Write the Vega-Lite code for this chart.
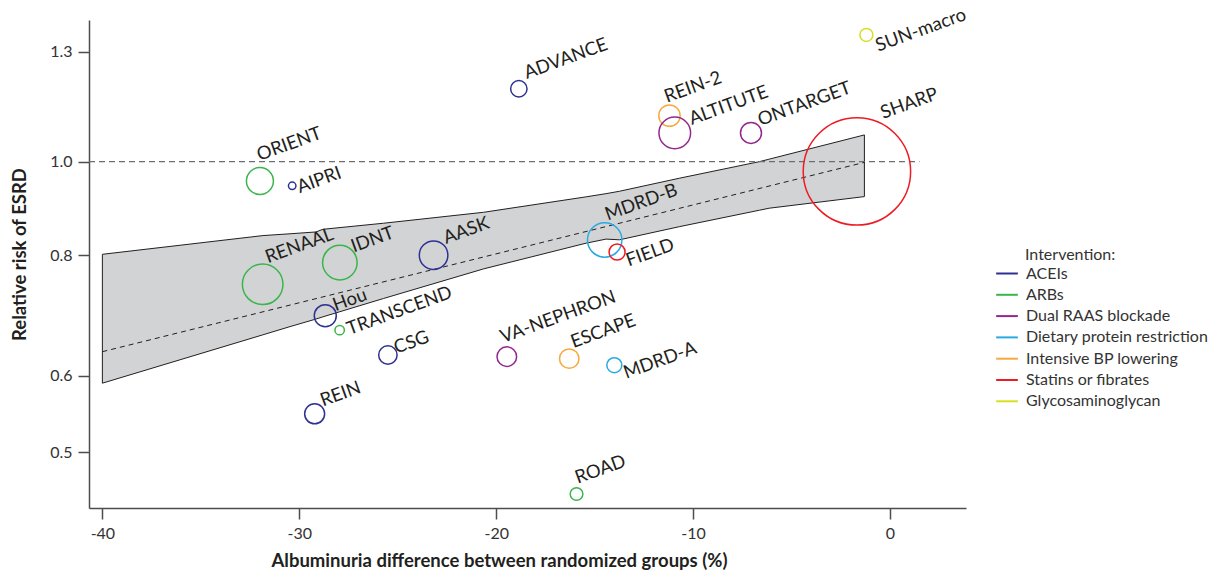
{
  "$schema": "https://vega.github.io/schema/vega-lite/v6.json",
  "width": 877,
  "height": 488,
  "autosize": {"type": "none"},
  "padding": {"left": 89, "top": 20, "right": 253, "bottom": 67},
  "config": {
    "view": {"stroke": null},
    "font": "Lato",
    "axis": {
      "labelFont": "Lato", "labelFontSize": 16, "labelColor": "#333333",
      "titleFont": "Lato", "titleFontSize": 18.5, "titleFontWeight": "bold", "titleColor": "#231f20",
      "domainColor": "#4d4d4d", "domainWidth": 1.5, "tickColor": "#4d4d4d", "tickWidth": 1.5,
      "tickSize": 11, "labelPadding": 6, "grid": false
    },
    "legend": {
      "orient": "none", "legendX": 906, "legendY": 226.5,
      "symbolType": "stroke", "symbolSize": 470, "symbolStrokeWidth": 2,
      "labelFont": "Lato", "labelFontSize": 16, "labelColor": "#333333", "labelOffset": 7, "labelLimit": 400,
      "titleFont": "Lato", "titleFontSize": 16, "titleFontWeight": "normal", "titleColor": "#333333",
      "titlePadding": -1, "rowPadding": 1.3, "padding": 0
    }
  },
  "datasets": {
    "band": [
      {"x": -40, "lo": 0.5895, "hi": 0.8017},
      {"x": -31.85, "lo": 0.6616, "hi": 0.8383},
      {"x": -30.47, "lo": 0.6747, "hi": 0.8419},
      {"x": -29.15, "lo": 0.6870, "hi": 0.8456},
      {"x": -28.80, "lo": 0.6906, "hi": 0.8510},
      {"x": -25.72, "lo": 0.7215, "hi": 0.8634},
      {"x": -20.64, "lo": 0.7743, "hi": 0.8862},
      {"x": -15.43, "lo": 0.8233, "hi": 0.9195},
      {"x": -14.42, "lo": 0.8313, "hi": 0.9265},
      {"x": -13.74, "lo": 0.8299, "hi": 0.9318},
      {"x": -10.70, "lo": 0.8563, "hi": 0.9612},
      {"x": -6.63, "lo": 0.8906, "hi": 1.0000},
      {"x": -6.13, "lo": 0.8949, "hi": 1.0060},
      {"x": -1.30, "lo": 0.9200, "hi": 1.0658}
    ],
    "ref": [
      {"x": -40.68, "y": 1.0},
      {"x": 1.5, "y": 1.0}
    ],
    "fit": [
      {"x": -40, "y": 0.6355},
      {"x": -1.27, "y": 0.9986}
    ],
    "trials": [
      {"study": "ORIENT", "intervention": "ARBs", "x": -32.0, "y": 0.955, "n": 182, "lx": -32.02, "ly": 1.0017},
      {"study": "AIPRI", "intervention": "ACEIs", "x": -30.36, "y": 0.944, "n": 14, "lx": -29.98, "ly": 0.9275},
      {"study": "RENAAL", "intervention": "ARBs", "x": -31.86, "y": 0.7464, "n": 412, "lx": -31.59, "ly": 0.7849},
      {"study": "IDNT", "intervention": "ARBs", "x": -27.94, "y": 0.786, "n": 299, "lx": -27.24, "ly": 0.805},
      {"study": "Hou", "intervention": "ACEIs", "x": -28.68, "y": 0.6925, "n": 121, "lx": -28.16, "ly": 0.6998},
      {"study": "TRANSCEND", "intervention": "ARBs", "x": -27.95, "y": 0.669, "n": 22, "lx": -27.45, "ly": 0.6612},
      {"study": "AASK", "intervention": "ACEIs", "x": -23.18, "y": 0.80, "n": 204, "lx": -22.55, "ly": 0.8215},
      {"study": "CSG", "intervention": "ACEIs", "x": -25.50, "y": 0.6305, "n": 85, "lx": -25.06, "ly": 0.6322},
      {"study": "REIN", "intervention": "ACEIs", "x": -29.22, "y": 0.548, "n": 100, "lx": -28.80, "ly": 0.5575},
      {"study": "ADVANCE", "intervention": "ACEIs", "x": -18.85, "y": 1.190, "n": 67, "lx": -18.45, "ly": 1.218},
      {"study": "REIN-2", "intervention": "Intensive BP lowering", "x": -11.20, "y": 1.116, "n": 114, "lx": -11.32, "ly": 1.151},
      {"study": "ALTITUTE", "intervention": "Dual RAAS blockade", "x": -10.93, "y": 1.071, "n": 250, "lx": -10.07, "ly": 1.0915},
      {"study": "ONTARGET", "intervention": "Dual RAAS blockade", "x": -7.06, "y": 1.071, "n": 110, "lx": -6.58, "ly": 1.0889},
      {"study": "MDRD-B", "intervention": "Dietary protein restriction", "x": -14.49, "y": 0.8296, "n": 296, "lx": -14.34, "ly": 0.8688},
      {"study": "FIELD", "intervention": "Statins or fibrates", "x": -13.86, "y": 0.806, "n": 64, "lx": -13.27, "ly": 0.7786},
      {"study": "VA-NEPHRON", "intervention": "Dual RAAS blockade", "x": -19.46, "y": 0.628, "n": 96, "lx": -19.66, "ly": 0.6487},
      {"study": "ESCAPE", "intervention": "Intensive BP lowering", "x": -16.29, "y": 0.625, "n": 94, "lx": -16.08, "ly": 0.641},
      {"study": "MDRD-A", "intervention": "Dietary protein restriction", "x": -14.0, "y": 0.6154, "n": 56, "lx": -13.40, "ly": 0.5956},
      {"study": "ROAD", "intervention": "ARBs", "x": -15.92, "y": 0.4526, "n": 40, "lx": -15.86, "ly": 0.4637},
      {"study": "SUN-macro", "intervention": "Glycosaminoglycan", "x": -1.20, "y": 1.353, "n": 42, "lx": -0.594, "ly": 1.2999},
      {"study": "SHARP", "intervention": "Statins or fibrates", "x": -1.68, "y": 0.977, "n": 2884, "lx": -0.34, "ly": 1.1072}
    ]
  },
  "layer": [
    {
      "data": {"name": "band"},
      "mark": {"type": "area", "fill": "#d1d3d4", "stroke": "#231f20", "strokeWidth": 1},
      "encoding": {
        "x": {
          "field": "x", "type": "quantitative",
          "scale": {"domain": [-40.68, 3.86], "nice": false, "zero": false},
          "axis": {
            "values": [-40, -30, -20, -10, 0],
            "labelExpr": "datum.value < 0 ? '-' + abs(datum.value) : '' + datum.value",
            "titlePadding": 10, "titleX": 410
          },
          "title": "Albuminuria difference between randomized groups (%)"
        },
        "y": {
          "field": "hi", "type": "quantitative",
          "scale": {"type": "log", "domain": [0.4377, 1.402], "nice": false},
          "axis": {"values": [0.5, 0.6, 0.8, 1.0, 1.3], "format": ".1f", "titlePadding": 20, "titleY": 234},
          "title": "Relative risk of ESRD"
        },
        "y2": {"field": "lo"}
      }
    },
    {
      "data": {"name": "ref"},
      "mark": {"type": "line", "color": "#6d6e71", "strokeWidth": 1.3, "strokeDash": [6, 4]},
      "encoding": {
        "x": {"field": "x", "type": "quantitative", "title": "Albuminuria difference between randomized groups (%)"},
        "y": {"field": "y", "type": "quantitative", "title": "Relative risk of ESRD"}
      }
    },
    {
      "data": {"name": "fit"},
      "mark": {"type": "line", "color": "#231f20", "strokeWidth": 1, "strokeDash": [5, 4]},
      "encoding": {
        "x": {"field": "x", "type": "quantitative", "title": "Albuminuria difference between randomized groups (%)"},
        "y": {"field": "y", "type": "quantitative", "title": "Relative risk of ESRD"}
      }
    },
    {
      "data": {"name": "trials"},
      "mark": {"type": "point", "shape": "circle", "filled": false, "strokeWidth": 1.5, "opacity": 1},
      "encoding": {
        "x": {"field": "x", "type": "quantitative", "title": "Albuminuria difference between randomized groups (%)"},
        "y": {"field": "y", "type": "quantitative", "title": "Relative risk of ESRD"},
        "size": {"field": "n", "type": "quantitative", "scale": {"type": "linear", "domain": [0, 3000], "range": [0, 12000], "zero": true}, "legend": null},
        "color": {
          "field": "intervention", "type": "nominal",
          "scale": {
            "domain": ["ACEIs", "ARBs", "Dual RAAS blockade", "Dietary protein restriction", "Intensive BP lowering", "Statins or fibrates", "Glycosaminoglycan"],
            "range": ["#2e3192", "#39b54a", "#92278f", "#29abe2", "#f7a83e", "#ed1c24", "#d7df23"]
          },
          "legend": {
            "title": "Intervention:",
            "encoding": {"title": {"dx": {"value": 30}}}
          }
        }
      }
    },
    {
      "data": {"name": "trials"},
      "mark": {"type": "text", "align": "left", "baseline": "alphabetic", "angle": 340, "fontSize": 18.5, "font": "Lato", "color": "#231f20"},
      "encoding": {
        "x": {"field": "lx", "type": "quantitative", "title": "Albuminuria difference between randomized groups (%)"},
        "y": {"field": "ly", "type": "quantitative", "title": "Relative risk of ESRD"},
        "text": {"field": "study"}
      }
    }
  ]
}
